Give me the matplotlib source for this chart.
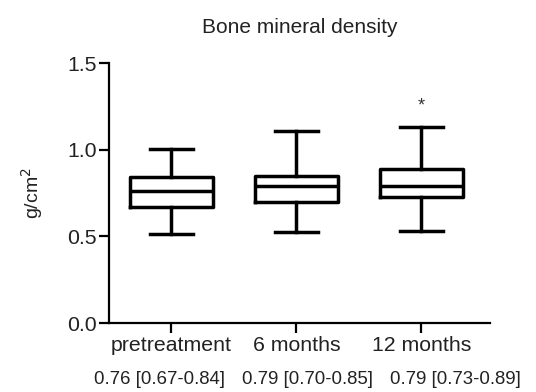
import matplotlib
matplotlib.use('Agg')
import matplotlib.pyplot as plt

plt.rcParams['font.family'] = ['Liberation Sans', 'DejaVu Sans']

# data (whiskers = min/max)
groups = ['pretreatment', '6 months', '12 months']
w_low = [0.514, 0.525, 0.533]
q1 = [0.67, 0.70, 0.73]
med = [0.76, 0.79, 0.79]
q3 = [0.84, 0.85, 0.89]
w_high = [1.004, 1.108, 1.133]
summary = ['0.76 [0.67-0.84]', '0.79 [0.70-0.85]', '0.79 [0.73-0.89]']
star_y = 1.25

stats = []
for i, g in enumerate(groups):
    stats.append({'label': g, 'whislo': w_low[i], 'q1': q1[i], 'med': med[i],
                  'q3': q3[i], 'whishi': w_high[i], 'fliers': []})

fig = plt.figure(figsize=(5.36, 3.92), dpi=100)
ax = fig.add_axes([0.2034, 0.176, 0.711, 0.663])

lw = 2.5
ax.bxp(stats, positions=[1, 2, 3], widths=0.66, showfliers=False,
       boxprops=dict(lw=lw, color='black'),
       medianprops=dict(lw=lw, color='black'),
       whiskerprops=dict(lw=lw, color='black'),
       capprops=dict(lw=lw, color='black'),
       capwidths=0.35)

ax.text(3, star_y, '*', ha='center', va='center', fontsize=13, color='#333333')

ax.set_xlim(0.5, 3.55)
ax.set_ylim(0, 1.5)
ax.set_yticks([0.0, 0.5, 1.0, 1.5])
ax.set_yticklabels(['0.0', '0.5', '1.0', '1.5'])
ax.set_xticks([1, 2, 3])
ax.set_xticklabels(groups)
ax.tick_params(axis='both', labelsize=15.3, width=1.6, length=7,
               color='black', labelcolor='#222222')
ax.tick_params(axis='x', pad=2)
ax.tick_params(axis='y', pad=2)
for s in ['top', 'right']:
    ax.spines[s].set_visible(False)
for s in ['left', 'bottom']:
    ax.spines[s].set_linewidth(1.6)

ax.set_ylabel('g/cm$^2$', fontsize=14, labelpad=16, color='#222222')
ax.set_title('Bone mineral density', fontsize=15, pad=22, color='#222222')

for x, t in zip([159.5, 308, 455], summary):
    fig.text(x / 536, 1 - 380 / 392, t, ha='center', va='center',
             fontsize=13.4, color='#222222')

fig.savefig('out.png', dpi=100)
